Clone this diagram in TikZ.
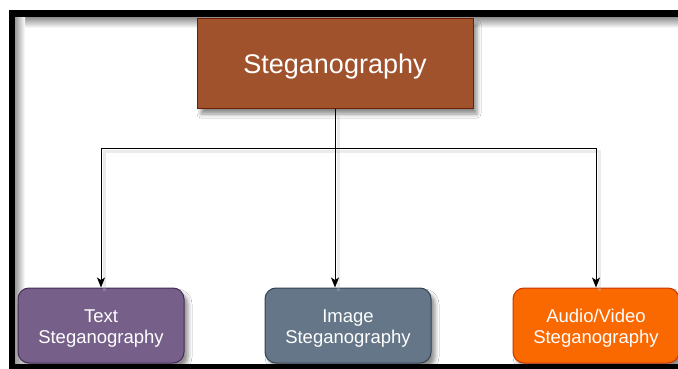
\documentclass[tikz,border=0pt]{standalone}
\usepackage{fontspec}
\setmainfont{Liberation Sans}
\usetikzlibrary{arrows.meta,shadows.blur}

\definecolor{rootfill}{HTML}{A0522D}
\definecolor{rootline}{HTML}{6D1F00}
\definecolor{textfill}{HTML}{76608A}
\definecolor{textline}{HTML}{432D57}
\definecolor{imgfill}{HTML}{647687}
\definecolor{imgline}{HTML}{314354}
\definecolor{avfill}{HTML}{FA6800}
\definecolor{avline}{HTML}{C73500}

\tikzset{
  boxshadow/.style={blur shadow={shadow xshift=4pt, shadow yshift=-5pt,
      shadow blur radius=4pt, shadow opacity=45}},
  rootbox/.style={draw=rootline, fill=rootfill, line width=1pt, boxshadow,
      minimum width=276pt, minimum height=90pt, text=white,
      font=\fontsize{27}{32}\selectfont},
  leafbox/.style={rounded corners=11pt, line width=1pt, boxshadow,
      minimum width=166pt, minimum height=75pt, text=white, align=center,
      font=\fontsize{18.5}{21}\selectfont},
  conn/.style={draw=black, line width=1pt,
      -{Stealth[length=10pt, width=8pt, inset=2.5pt]}},
  connshadow/.style={draw=black!25, line width=3pt, opacity=0.3,
      transform canvas={xshift=3pt, yshift=-3pt}},
}

\begin{document}
\begin{tikzpicture}[x=1pt, y=-1pt]
  \useasboundingbox (0,0) rectangle (678,369);
  \fill[white] (0,0) rectangle (678,369);

  % black frame with its soft inner shadow
  \fill[black] (9,10) rectangle (678,369);
  \fill[white] (15,18) rectangle (678,364);
  \shade[top color=black!40, bottom color=white] (15,18) rectangle (678,28);
  \shade[left color=black!40, right color=white] (15,18) rectangle (25,364);
  \fill[white] (25,28) rectangle (678,364);

  % nodes
  \node[rootbox] (root) at (335,64) {};
  \node[text=white, font=\fontsize{27}{32}\selectfont] (roottext) at (335,67)
      {Steganography};
  \node[leafbox, draw=textline, fill=textfill] (txt) at (101,325.5) {};
  \node[leafbox, draw=imgline, fill=imgfill] (img) at (348,325.5) {};
  \node[leafbox, draw=avline, fill=avfill] (av) at (596,325.5) {};
  \node[align=center, text=white, font=\fontsize{18.5}{21}\selectfont]
      (txtlabel) at (101,328.5) {Text\\Steganography};
  \node[align=center, text=white, font=\fontsize{18.5}{21}\selectfont]
      (imglabel) at (348,328.5) {Image\\Steganography};
  \node[align=center, text=white, font=\fontsize{18.5}{21}\selectfont]
      (avlabel) at (596,328.5) {Audio/Video\\Steganography};

  \coordinate (junction) at (335,148);

  % connector shadows
  \draw[connshadow] (root.south) -- (root.south |- img.north);
  \draw[connshadow] (junction) -| (txt.north);
  \draw[connshadow] (junction) -| (av.north);

  % connectors
  \draw[conn] (root.south) -- (root.south |- img.north);
  \draw[conn] (junction) -| (txt.north);
  \draw[conn] (junction) -| (av.north);

  % bottom band of the frame over the boxes
  \fill[black] (9,364) rectangle (678,369);
\end{tikzpicture}
\end{document}
